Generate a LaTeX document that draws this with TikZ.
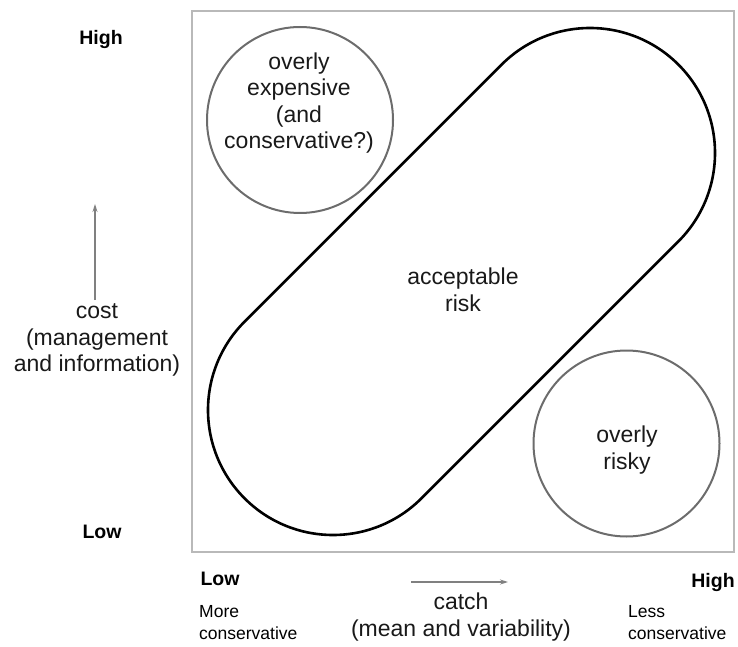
\documentclass[tikz,border=0pt]{standalone}
\usepackage{fontspec}
\setmainfont{Liberation Sans}
\usetikzlibrary{positioning,arrows.meta}
\newcommand{\lblfont}{\fontsize{23}{26.5}\selectfont}
\newcommand{\tipfont}{\fontsize{19.5}{22}\selectfont\bfseries}
\newcommand{\notefont}{\fontsize{17.5}{22}\selectfont}

\begin{document}
\begin{tikzpicture}[x=1pt,y=1pt,
  lbl/.style={align=center,inner sep=0,font=\lblfont,text=black!90},
  endlbl/.style={inner sep=0,font=\tipfont},
  note/.style={align=left,inner sep=0,font=\notefont,anchor=north west},
  axarrow/.style={gray,line width=1.1pt,-{Stealth[length=8pt,width=5pt]}},
  zone/.style={gray!85!black,line width=2pt}]
\useasboundingbox (0,0) rectangle (738,646);
\draw[gray!55,line width=1.3pt] (192,94) rectangle (734,635);
% acceptable band
\coordinate (urc) at (590,493);
\coordinate (llc) at (333,236);
\draw[black,line width=2.6pt] ([shift={(135:125)}]urc) arc[start angle=135,end angle=-45,radius=125]
    -- ([shift={(-45:125)}]llc) arc[start angle=-45,end angle=-225,radius=125] -- cycle;
\draw[zone] (300,526) circle[radius=93];
\draw[zone] (626.5,202.5) circle[radius=93];
\node[lbl] (expensive) at (299,543) {overly\\expensive\\(and\\conservative?)};
\node[lbl] (risky) at (627,196) {overly\\risky};
\node[lbl] (accrisk) at (463,356) {acceptable\\risk};
% cost axis
\node[endlbl] (hicost) at (101,606) {High};
\node[endlbl] (locost) at (102,114) {Low};
\node[lbl] (costlbl) at (97,306) {cost\\(management\\and information)};
\coordinate (costtail) at (95,346);
\coordinate (costhead) at (95,442);
\draw[axarrow] (costtail) -- (costhead);
% catch axis
\node[endlbl] (locatch) at (220,67) {Low};
\node[endlbl] (hicatch) at (713,64) {High};
\node[note] (moreconsv) at (199,41) {More\\conservative};
\node[note] (lessconsv) at (628,41) {Less\\conservative};
\node[lbl] (catchlbl) at (461,29) {catch\\(mean and variability)};
\coordinate (catchtail) at (411,64);
\coordinate (catchhead) at (508,64);
\draw[axarrow] (catchtail) -- (catchhead);
\end{tikzpicture}
\end{document}
